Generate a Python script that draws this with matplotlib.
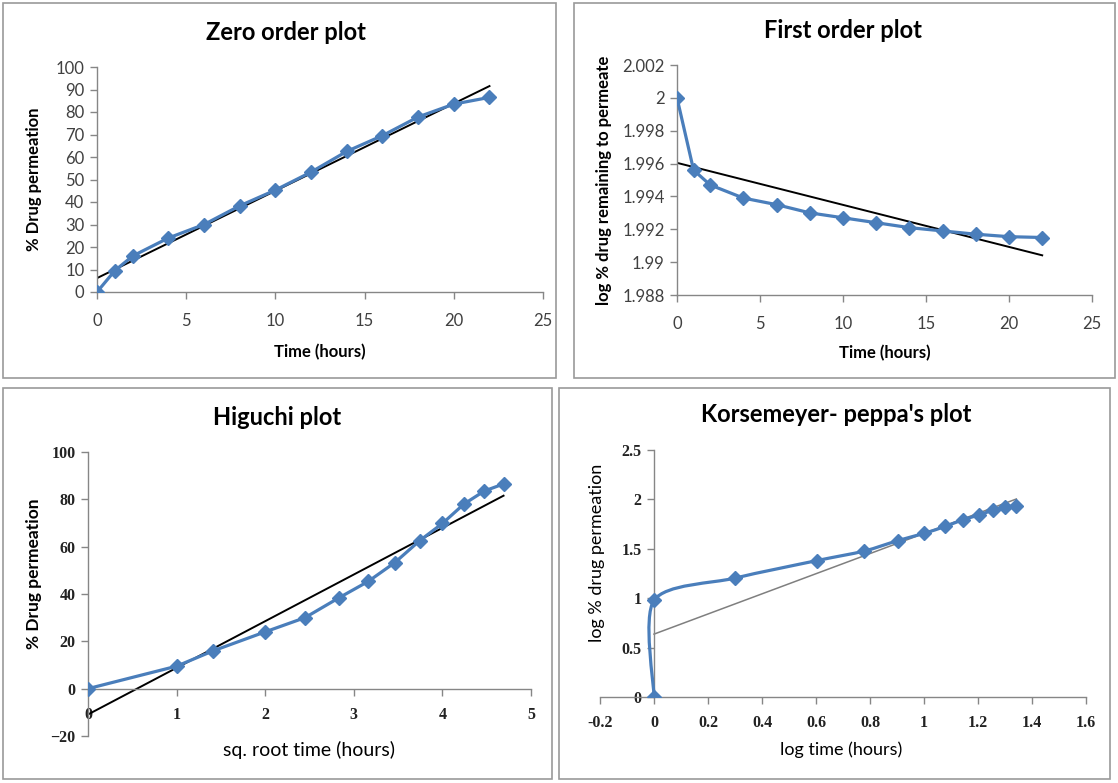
import matplotlib
matplotlib.use('Agg')
import matplotlib.pyplot as plt
from matplotlib.path import Path
from matplotlib.patches import PathPatch, Rectangle
import numpy as np

# data
time_h = [0, 1, 2, 4, 6, 8, 10, 12, 14, 16, 18, 20, 22]
pct_perm = [0, 9.5, 16, 24, 30, 38.3, 45.3, 53.3, 62.5, 69.5, 77.8, 83.5, 86.5]
log_remain = [2.0, 1.9956, 1.9947, 1.9939, 1.9935, 1.9930, 1.9927,
              1.9924, 1.9921, 1.9919, 1.9917, 1.99155, 1.9915]
sqrt_time = [0, 1, 1.414, 2, 2.449, 2.828, 3.162, 3.464, 3.742, 4, 4.243, 4.472, 4.690]
higuchi_perm = [0, 9.5, 16, 24, 30, 38.3, 45.3, 53.3, 62.5, 69.8, 78, 83.5, 86.5]
log_time = [0, 0, 0.301, 0.602, 0.778, 0.903, 1.0, 1.079, 1.146, 1.204, 1.255, 1.301, 1.342]
log_perm = [0, 0.978, 1.204, 1.380, 1.477, 1.583, 1.656, 1.727, 1.796, 1.842, 1.891, 1.922, 1.937]

BLUE = '#4a7ebb'
AXC = '#868686'
W, H = 1118, 783
SANS = ['Lato', 'DejaVu Sans']
SERIF = ['Liberation Serif', 'DejaVu Serif']

fig = plt.figure(figsize=(W / 100, H / 100), dpi=100)


def px_axes(x0, x1, ytop, ybot):
    return fig.add_axes([x0 / W, 1 - ybot / H, (x1 - x0) / W, (ybot - ytop) / H])


def fx(x):
    return x / W


def fy(y):
    return 1 - y / H


def style(ax, xpad, serif=False):
    for s in ['top', 'right']:
        ax.spines[s].set_visible(False)
    for s in ['left', 'bottom']:
        ax.spines[s].set_color(AXC)
        ax.spines[s].set_linewidth(1)
    ax.tick_params(direction='out', length=5, width=1, color=AXC, pad=4)
    ax.tick_params(axis='x', pad=xpad)
    for lab in ax.get_xticklabels() + ax.get_yticklabels():
        if serif:
            lab.set_family(SERIF)
            lab.set_fontweight('bold')
            lab.set_fontsize(11.5)
            lab.set_color('#222222')
        else:
            lab.set_family(SANS)
            lab.set_fontsize(12)
            lab.set_color('#404040')


def trend(ax, x, y, color='black', lw=1.4):
    k, b = np.polyfit(x, y, 1)
    xs = np.array([min(x), max(x)])
    ax.plot(xs, k * xs + b, color=color, lw=lw, zorder=2)


def smooth_curve(ax, x, y, t=1 / 6):
    # Excel-style smoothed line: cubic Bezier through the points
    p = np.column_stack([x, y]).astype(float)
    n = len(p)
    verts = [p[0]]
    codes = [Path.MOVETO]
    for i in range(n - 1):
        p0 = p[i - 1] if i > 0 else p[i]
        p3 = p[i + 2] if i + 2 < n else p[i + 1]
        c1 = p[i] + (p[i + 1] - p0) * t
        c2 = p[i + 1] - (p3 - p[i]) * t
        verts += [c1, c2, p[i + 1]]
        codes += [Path.CURVE4] * 3
    ax.add_patch(PathPatch(Path(verts, codes), fc='none', ec=BLUE, lw=2.3, zorder=3))


def frame(x0, y0, x1, y1):
    fig.patches.append(Rectangle((fx(x0), fy(y1)), fx(x1 - x0), (y1 - y0) / H,
                                 transform=fig.transFigure, fill=False,
                                 ec='#9a9a9a', lw=1.2))


frame(3, 3, 556, 378)
frame(574, 3, 1115, 378)
frame(3, 388, 552, 779)
frame(559, 388, 1110, 779)

mk = dict(marker='D', ms=7, color=BLUE, mec=BLUE, lw=2.3, zorder=3)
tfont = dict(ha='center', va='center', family=SANS, fontsize=17, fontweight='bold')

# Zero order
ax1 = px_axes(97, 543, 67, 292)
ax1.plot(time_h, pct_perm, **mk)
trend(ax1, time_h, pct_perm)
ax1.set_xlim(0, 25)
ax1.set_ylim(0, 100)
ax1.set_xticks(range(0, 26, 5))
ax1.set_yticks(range(0, 101, 10))
style(ax1, 10)
fig.text(fx(286), fy(33), 'Zero order plot', **tfont)
fig.text(fx(34), fy(179), '% Drug permeation', ha='center', va='center',
         rotation=90, family=SANS, fontsize=12, fontweight='bold')
fig.text(fx(320), fy(352), 'Time (hours)', ha='center', va='center',
         family=SANS, fontsize=12, fontweight='bold')

# First order
ax2 = px_axes(677, 1092, 65, 295)
ax2.plot(time_h, log_remain, **mk)
trend(ax2, time_h, log_remain)
ax2.set_xlim(0, 25)
ax2.set_ylim(1.988, 2.002)
ax2.set_xticks(range(0, 26, 5))
ax2.set_yticks([1.988, 1.99, 1.992, 1.994, 1.996, 1.998, 2.0, 2.002])
ax2.set_yticklabels(['1.988', '1.99', '1.992', '1.994', '1.996', '1.998', '2', '2.002'])
style(ax2, 10)
fig.text(fx(843), fy(31), 'First order plot', **tfont)
fig.text(fx(604), fy(180), 'log % drug remaining to permeate', ha='center', va='center',
         rotation=90, family=SANS, fontsize=12, fontweight='bold')
fig.text(fx(885), fy(353), 'Time (hours)', ha='center', va='center',
         family=SANS, fontsize=12, fontweight='bold')

# Higuchi
ax3 = px_axes(88, 531, 452, 736)
ax3.plot(sqrt_time, higuchi_perm, **mk)
trend(ax3, sqrt_time, higuchi_perm)
ax3.set_xlim(0, 5)
ax3.set_ylim(-20, 100)
ax3.set_xticks(range(0, 6))
ax3.set_yticks(range(-20, 101, 20))
ax3.spines['bottom'].set_position(('data', 0))
style(ax3, 8, serif=True)
fig.text(fx(277), fy(417), 'Higuchi plot', **tfont)
fig.text(fx(34), fy(574), '% Drug permeation', ha='center', va='center',
         rotation=90, family=SANS, fontsize=12.5, fontweight='bold')
fig.text(fx(309), fy(750), 'sq. root time (hours)', ha='center', va='center',
         family=SANS, fontsize=14)

# Korsmeyer-Peppas
ax4 = px_axes(600, 1086, 450, 697)
smooth_curve(ax4, log_time, log_perm, t=0.14)
ax4.plot(log_time, log_perm, marker='D', ms=7, color=BLUE, ls='none', zorder=4)
trend(ax4, log_time, log_perm, color='#7f7f7f', lw=1.1)
ax4.set_xlim(-0.2, 1.6)
ax4.set_ylim(0, 2.5)
ax4.set_xticks([-0.2, 0, 0.2, 0.4, 0.6, 0.8, 1.0, 1.2, 1.4, 1.6])
ax4.set_xticklabels(['-0.2', '0', '0.2', '0.4', '0.6', '0.8', '1', '1.2', '1.4', '1.6'])
ax4.set_yticks([0, 0.5, 1, 1.5, 2, 2.5])
ax4.set_yticklabels(['0', '0.5', '1', '1.5', '2', '2.5'])
ax4.spines['left'].set_position(('data', 0))
style(ax4, 8, serif=True)
fig.text(fx(836), fy(415), "Korsemeyer- peppa's plot", **tfont)
fig.text(fx(597), fy(553), 'log % drug permeation', ha='center', va='center',
         rotation=90, family=SANS, fontsize=13)
fig.text(fx(841), fy(750), 'log time (hours)', ha='center', va='center',
         family=SANS, fontsize=13)

fig.savefig('out.png', dpi=100, facecolor='white')
